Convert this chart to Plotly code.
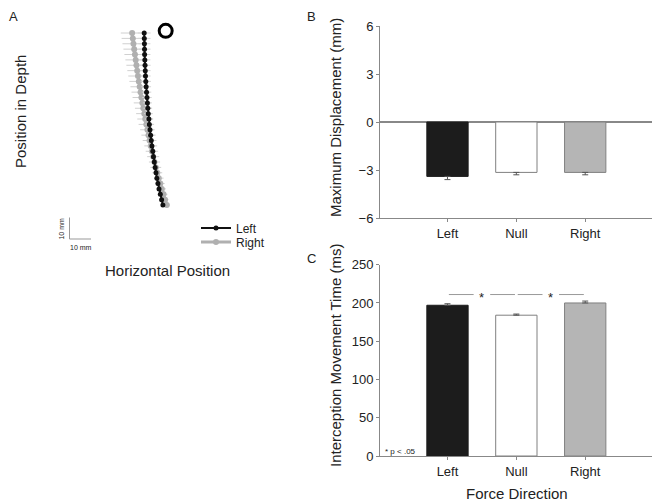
import plotly.graph_objects as go

# ---------------- data ----------------
categories = ["Left", "Null", "Right"]
disp_mean = [-3.4, -3.15, -3.15]
disp_err = [0.2, 0.15, 0.15]
mt_mean = [197, 184, 200]
mt_err = [2.0, 1.5, 2.5]
sig_pairs = [("Left", "Null"), ("Null", "Right")]
sig_level = 211

traj_y = [0, 2.5, 5, 7.5, 10, 12.5, 15, 17.5, 20, 22.5, 25, 27.5, 30, 32.5, 35, 37.5,
          40, 42.5, 45, 47.5, 50, 52.5, 55, 57.5, 60, 62.5, 65, 67.5, 70, 72.5, 75, 77.5, 80]
left_x = [6.0, 5.4, 4.8, 4.2, 3.7, 3.2, 2.8, 2.4, 2.0, 1.6, 1.3, 0.9, 0.6, 0.3, 0.0, -0.3,
          -0.5, -0.8, -1.0, -1.2, -1.4, -1.6, -1.8, -1.95, -2.1, -2.2, -2.3, -2.4, -2.5,
          -2.55, -2.6, -2.65, -2.7]
right_x = [7.8, 7.0, 6.3, 5.5, 4.8, 4.1, 3.4, 2.7, 2.1, 1.5, 0.9, 0.35, -0.2, -0.7, -1.2,
           -1.7, -2.2, -2.65, -3.1, -3.55, -4.0, -4.4, -4.8, -5.2, -5.6, -5.95, -6.3, -6.65,
           -7.0, -7.35, -7.7, -8.0, -8.3]
left_err = [0.8, 0.9, 1.0, 1.0, 1.1, 1.2, 1.2, 1.3, 1.4, 1.4, 1.5, 1.6, 1.6, 1.7, 1.8, 1.8,
            1.9, 2.0, 2.0, 2.1, 2.2, 2.2, 2.3, 2.4, 2.4, 2.5, 2.6, 2.6, 2.7, 2.8, 2.8, 2.9, 3.0]
right_err = [1.5, 1.6, 1.8, 1.9, 2.0, 2.2, 2.3, 2.5, 2.6, 2.8, 2.9, 3.0, 3.2, 3.3, 3.4, 3.6,
             3.7, 3.8, 3.9, 4.0, 4.1, 4.2, 4.3, 4.4, 4.5, 4.6, 4.7, 4.8, 4.9, 5.0, 5.1, 5.2, 5.3]
target_x = [7.3]
target_y = [81]
scale_len = 10  # mm

# ---------------- figure ----------------
W, H = 652, 504
FONT = "Liberation Sans, Arial, sans-serif"
TXT = "#222222"
AX = "#888888"
bar_fill = ["#1c1c1c", "#ffffff", "#b5b5b5"]
bar_line = ["#1c1c1c", "#808080", "#808080"]

def px_x(p):
    return p / W

def px_y(p):
    return 1 - p / H

fig = go.Figure()

# Panel A trajectories
fig.add_trace(go.Scatter(
    x=right_x, y=traj_y, mode="lines+markers", name="Right",
    line=dict(color="#b0b0b0", width=3),
    marker=dict(color="#b0b0b0", size=6),
    error_x=dict(type="data", array=right_err, color="#d0d0d0", thickness=1, width=0),
    xaxis="x", yaxis="y", legend="legend2"))
fig.add_trace(go.Scatter(
    x=left_x, y=traj_y, mode="lines+markers", name="Left",
    line=dict(color="#111111", width=2),
    marker=dict(color="#111111", size=5),
    error_x=dict(type="data", array=left_err, color="#d5d5d5", thickness=1, width=0),
    xaxis="x", yaxis="y", legend="legend"))
fig.add_trace(go.Scatter(
    x=target_x, y=target_y, mode="markers", showlegend=False,
    marker=dict(symbol="circle-open", size=13, color="#000000", line=dict(width=3)),
    xaxis="x", yaxis="y"))

# Panel B bars
fig.add_trace(go.Bar(
    x=categories, y=disp_mean, width=0.6, showlegend=False,
    marker=dict(color=bar_fill, line=dict(color=bar_line, width=1)),
    error_y=dict(type="data", symmetric=False, array=[0, 0, 0], arrayminus=disp_err,
                 color="#555555", thickness=1, width=3),
    xaxis="x2", yaxis="y2"))

# Panel C bars
fig.add_trace(go.Bar(
    x=categories, y=mt_mean, width=0.6, showlegend=False,
    marker=dict(color=bar_fill, line=dict(color=bar_line, width=1)),
    error_y=dict(type="data", symmetric=False, array=mt_err, arrayminus=[0, 0, 0],
                 color="#555555", thickness=1, width=3),
    xaxis="x3", yaxis="y3"))

# Panel A axes in mm (2.15 px per mm), hidden
k = 2.15
ox, oy = 150, 205
fig.update_layout(
    xaxis=dict(domain=[0, px_x(290)], range=[(0 - ox) / k, (290 - ox) / k],
               visible=False, fixedrange=True, automargin=False),
    yaxis=dict(domain=[px_y(290), 1], range=[(oy - 290) / k, oy / k],
               visible=False, fixedrange=True, automargin=False),
)

common_x = dict(domain=[px_x(380), 1], range=[-0.98, 2.97], showline=True, linecolor=AX,
                linewidth=1, ticks="outside", ticklen=3, tickcolor=AX,
                tickfont=dict(size=13, color=TXT, family=FONT), showgrid=False,
                zeroline=False, automargin=False)
common_y = dict(showline=True, linecolor=AX, linewidth=1, ticks="outside", ticklen=3,
                tickcolor=AX, showgrid=False, automargin=False,
                tickfont=dict(size=13, color=TXT, family=FONT))
fig.update_layout(
    xaxis2=dict(anchor="y2", **common_x),
    yaxis2=dict(domain=[px_y(218), px_y(26)], range=[-6, 6], anchor="x2",
                tickvals=[-6, -3, 0, 3, 6], zeroline=True, zerolinecolor=AX,
                zerolinewidth=1.5, **common_y),
    xaxis3=dict(anchor="y3", **common_x),
    yaxis3=dict(domain=[px_y(456), px_y(264.7)], range=[0, 250], anchor="x3",
                tickvals=[0, 50, 100, 150, 200, 250], zeroline=False, **common_y),
)

shapes = []
annotations = []

def ann(x, y, text, size, angle=0, xanchor="center", **kw):
    annotations.append(dict(xref="paper", yref="paper", x=px_x(x), y=px_y(y), text=text,
                            textangle=angle, showarrow=False, xanchor=xanchor,
                            yanchor="middle",
                            font=dict(size=size, color=TXT, family=FONT), **kw))

# scale bar (mm units on panel A axes)
sx0 = (69.5 - ox) / k
sy0 = (oy - 239) / k
shapes.append(dict(type="line", xref="x", yref="y", x0=sx0, x1=sx0, y0=sy0,
                   y1=sy0 + scale_len, line=dict(color="#999999", width=1)))
shapes.append(dict(type="line", xref="x", yref="y", x0=sx0, x1=sx0 + scale_len, y0=sy0,
                   y1=sy0, line=dict(color="#999999", width=1)))
annotations.append(dict(xref="x", yref="y", x=sx0 - 3.8, y=sy0 + scale_len / 2,
                        text=f"{scale_len} mm", textangle=-90, showarrow=False,
                        xanchor="center", yanchor="middle",
                        font=dict(size=7, color=TXT, family=FONT)))
annotations.append(dict(xref="x", yref="y", x=sx0 + scale_len / 2 + 0.5, y=sy0 - 3.8,
                        text=f"{scale_len} mm", showarrow=False,
                        xanchor="center", yanchor="middle",
                        font=dict(size=7, color=TXT, family=FONT)))

# significance lines in panel C
idx = {c: i for i, c in enumerate(categories)}
for a, b in sig_pairs:
    i0, i1 = idx[a], idx[b]
    mid = (i0 + i1) / 2
    shapes.append(dict(type="line", xref="x3", yref="y3", x0=i0 + 0.02, x1=mid - 0.12,
                       y0=sig_level, y1=sig_level, line=dict(color="#999999", width=1)))
    shapes.append(dict(type="line", xref="x3", yref="y3", x0=mid + 0.12, x1=i1 - 0.02,
                       y0=sig_level, y1=sig_level, line=dict(color="#999999", width=1)))
    annotations.append(dict(xref="x3", yref="y3", x=mid, y=sig_level, text="*",
                            showarrow=False, yshift=-3, xanchor="center", yanchor="middle",
                            font=dict(size=13, color=TXT, family=FONT)))

# panel letters
for letter, x, y in [("A", 13, 17), ("B", 311, 17), ("C", 311, 258)]:
    ann(x, y, letter, 13)

# axis titles
ann(20, 112, "Position in Depth", 15, angle=-90)
ann(167, 270, "Horizontal Position", 15)
ann(335, 118, "Maximum Displacement (mm)", 15, angle=-90)
ann(335, 356, "Interception Movement Time (ms)", 15, angle=-90)
ann(517, 493, "Force Direction", 15)
ann(383, 451, "* p < .05", 8, xanchor="left")

leg_common = dict(xanchor="left", yanchor="middle", bgcolor="rgba(0,0,0,0)",
                  font=dict(size=12, color=TXT, family=FONT), itemwidth=30,
                  borderwidth=0)
fig.update_layout(
    width=W, height=H,
    margin=dict(l=0, r=0, t=0, b=0, pad=0, autoexpand=False),
    paper_bgcolor="white", plot_bgcolor="white",
    shapes=shapes, annotations=annotations,
    showlegend=True,
    legend=dict(x=px_x(196), y=px_y(228), **leg_common),
    legend2=dict(x=px_x(196), y=px_y(242), **leg_common),
    font=dict(family=FONT, color=TXT),
)

fig.write_html("out.html")
